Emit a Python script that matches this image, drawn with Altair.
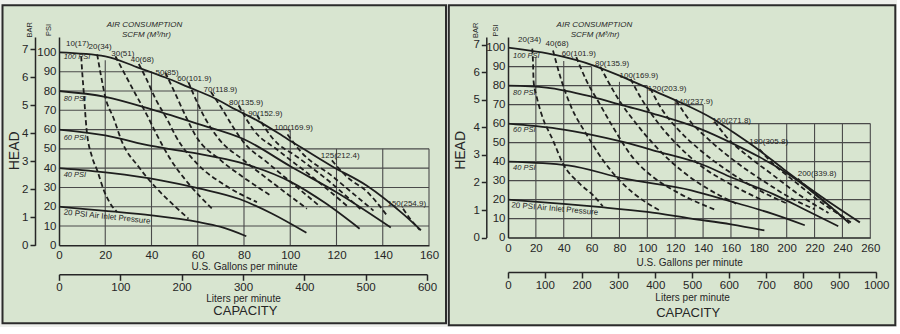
import altair as alt
import pandas as pd

FONT = "Liberation Sans, Arial, sans-serif"
INK = "#262626"
GRIDC = "#4a4a4a"
PANEL = "#d8e5d0"
PAGE = "#eef0ec"
PSI_PER_BAR = 14.5038

PSI_TICKS = [0, 10, 20, 30, 40, 50, 60, 70, 80, 90, 100]
BAR_TICKS = [0, 1, 2, 3, 4, 5, 6, 7]

# ---------------- left pump ----------------
L_GPM_TICKS = [0, 20, 40, 60, 80, 100, 120, 140, 160]
L_LPM_TICKS = [0, 100, 200, 300, 400, 500, 600]
L_GRID_V_GPM = [20, 40, 60, 80, 100, 120, 140, 160]
L_GRID_V_TOP = [96, 90, 80, 70, 60, 50, 50, 50]
L_GRID_H_PSI = [10, 20, 30, 40, 50, 60, 70, 80, 90]
L_GRID_H_END = [160, 160, 160, 160, 160, 100, 80, 60, 40]

L_P100 = [(0, 100), (20, 98), (34.5, 92), (46, 87), (56, 82), (66, 77), (77, 70), (86, 64.5),
          (98.6, 55.3), (118, 41), (133, 31), (149, 16), (156.5, 7.8)]
L_P80 = [(0, 80), (20, 77), (40, 70.5), (60, 63), (80, 55), (100, 41), (120, 27.5), (143.5, 9.2)]
L_P60 = [(0, 60), (20, 57), (40, 51.5), (60, 47.5), (78, 43), (100, 33), (115, 22), (130, 8.6)]
L_P40 = [(0, 40), (22, 37.5), (44, 33.7), (61, 29.4), (78, 24), (92, 16.5), (107, 6.5)]
L_P20 = [(0, 20), (20, 17.8), (40, 15.5), (60, 12.1), (70, 9.5), (81, 4.7)]

L_A10 = [(9.6, 98), (9.8, 94), (10.7, 79.4), (11.9, 60.4), (14.3, 45.8), (16.5, 38.9),
         (19.4, 28.5), (22.2, 21.6), (25.1, 17.3)]
L_A20 = [(16.5, 99), (18.3, 87), (20, 77), (23.7, 65.6), (27.3, 53.5), (34.5, 40.6),
         (41.7, 30.2), (48.9, 21.6), (56, 13.8)]
L_A30 = [(24.4, 98), (28, 89.8), (33, 78.6), (38.1, 67.4), (41.7, 58.7), (48, 45), (56, 32), (66.2, 19)]
L_A40 = [(34.5, 94), (37.4, 87.2), (41.7, 76), (47.4, 63.9), (50.3, 57), (60, 42), (72, 31), (85.6, 22.4)]
L_A50 = [(46, 89.5), (50.3, 78.6), (54.6, 67.4), (59, 57), (70, 44), (80, 35), (91.4, 25.9)]
L_A60 = [(56, 84.5), (59, 76), (63.3, 65.6), (69, 55.3), (80, 44), (95, 30), (107.2, 19)]
L_A70 = [(65.7, 79.5), (70.5, 70.8), (74.8, 62.2), (79.8, 53.5), (90, 43), (102, 31), (113, 20)]
L_A80 = [(77.7, 72.5), (84, 60), (95, 49), (110, 35), (124.5, 20.5)]
L_A90 = [(85.6, 67.5), (92, 56), (104, 45), (118, 32), (131, 18)]
L_A100 = [(98.8, 57.5), (105, 48), (118, 36), (128, 26), (136, 18)]
L_A125 = [(118, 44), (125, 35), (133, 28), (141.8, 15.5)]
L_A150 = [(148.8, 19), (152, 13.5), (156, 8)]

L_AIR_LABELS = ["10(17)", "20(34)", "30(51)", "40(68)", "50(85)", "60(101.9)", "70(118.9)",
                "80(135.9)", "90(152.9)", "100(169.9)", "125(212.4)", "150(254.9)"]
L_AIR_X = [8, 17.8, 27.6, 36, 46.7, 58.5, 69.8, 80.9, 89.2, 101.4, 121.6, 150.4]
L_AIR_Y = [104.5, 103, 99.3, 95.9, 89.3, 86, 80.7, 73.7, 68.2, 60.8, 46.3, 21.6]

L_PSI_LABELS = ["100 PSI", "80 PSI", "60 PSI", "40 PSI"]
L_PSI_LAB_X = [2, 2, 2, 2]
L_PSI_LAB_Y = [97.4, 75.6, 55.8, 36.3]
L_INLET_XY = (2, 17)

# ---------------- right pump ----------------
R_GPM_TICKS = [0, 20, 40, 60, 80, 100, 120, 140, 160, 180, 200, 220, 240, 260]
R_LPM_TICKS = [0, 100, 200, 300, 400, 500, 600, 700, 800, 900, 1000]
R_GRID_V_GPM = [20, 40, 60, 80, 100, 120, 140, 160, 180, 200, 220, 240, 260]
R_GRID_V_TOP = [95, 93, 90, 82, 80, 72, 70, 60, 60, 60, 60, 60, 60]
R_GRID_H_PSI = [10, 20, 30, 40, 50, 60, 70, 80, 90]
R_GRID_H_END = [260, 260, 260, 260, 260, 260, 140, 100, 60]

R_P100 = [(0, 100), (34.7, 96), (61, 90.7), (82.5, 84.5), (104, 77.5), (123, 71.4), (147, 62.6),
          (161.4, 55.6), (180.5, 45.9), (197.3, 36.3), (225, 21.5), (252.5, 8)]
R_P80 = [(0, 80), (27.5, 79), (61, 74), (82.5, 69.6), (104, 65.3), (137.5, 57.4), (161.4, 49.5),
         (180.5, 42.4), (200, 34), (222, 22), (245, 7.5)]
R_P60 = [(0, 60), (35, 57.4), (61, 54), (82.5, 50.4), (109, 45), (137.5, 39), (161, 31.5),
         (190, 23), (215, 14), (237, 6)]
R_P40 = [(0, 40), (43, 38), (83.7, 31), (131.5, 24.9), (160, 19), (190, 12.5), (213, 6.5)]
R_P20 = [(0, 20), (35, 18), (67, 16), (100, 13.5), (131.5, 10), (160, 7), (184, 3.8)]

R_A20 = [(17.4, 99.5), (17.9, 93), (18.4, 82), (20.3, 75), (23.9, 65.3), (32.3, 51.2), (39.5, 38.9),
         (51.4, 28.4), (61, 22.3), (68, 16.5)]
R_A40 = [(32.3, 98.5), (38.3, 82.8), (45.4, 68.7), (56.2, 54.5), (68.2, 40.7), (80.1, 30.1),
         (96.9, 19.6), (108.5, 14.4)]
R_A60 = [(49, 95), (56.2, 82.8), (65.7, 70.5), (75.3, 58.2), (89.7, 42), (104.1, 31.9),
         (123.3, 23.1), (149.5, 14.4)]
R_A80 = [(66.2, 90), (70.5, 84), (80, 72), (92, 60), (106, 48), (125, 35), (145, 25), (165, 17.5)]
R_A100 = [(88, 83.5), (95, 74), (106, 62), (120, 50), (138, 38), (160, 28), (183, 19.5)]
R_A120 = [(102.1, 78.5), (110, 68), (122, 57), (138, 46), (158, 35), (180, 25), (200, 18)]
R_A140 = [(120.8, 72), (130, 62), (145, 51), (165, 39), (185, 29), (205, 20), (220, 15)]
R_A160 = [(148.3, 61), (158, 52), (172, 43), (190, 33), (210, 22), (230, 13)]
R_A180 = [(180.5, 46.5), (190, 39), (205, 30), (222, 20), (240, 11)]
R_A200 = [(208, 31), (220, 23), (235, 14), (246, 8)]

R_AIR_LABELS = ["20(34)", "40(68)", "60(101.9)", "80(135.9)", "100(169.9)", "120(203.9)",
                "140(237.9)", "160(271.8)", "180(305.8)", "200(339.8)"]
R_AIR_X = [15.5, 35.2, 50.8, 74.7, 93.9, 114.2, 133.2, 160.5, 187.1, 221.8]
R_AIR_Y = [103.8, 102.1, 96.8, 91.6, 84.9, 78.4, 71.4, 61.4, 50.3, 33.3]

R_PSI_LABELS = ["100 PSI", "80 PSI", "60 PSI", "40 PSI"]
R_PSI_LAB_X = [3.6, 3.6, 3.6, 3.6]
R_PSI_LAB_Y = [95.4, 76.3, 56.5, 36.8]
R_INLET_XY = (2.4, 17)


def curves_df(curves):
    rows = []
    for name, pts in curves:
        for i, (g, p) in enumerate(pts):
            rows.append({"series": name, "i": i, "gpm": g, "psi": p})
    return pd.DataFrame(rows)


def panel(c):
    sx = alt.Scale(domain=[0, c["gmax"]], nice=False, zero=False)
    sy = alt.Scale(domain=[0, c["pmax"]], nice=False, zero=False)
    ax_x = alt.Axis(values=c["gticks"], title="U.S. Gallons per minute", grid=False, ticks=False,
                    labelPadding=c["glp"], titlePadding=c["gtp"], labelFontSize=11.5,
                    titleFontSize=10, titleFontWeight="normal", domainWidth=1.5,
                    labelFlush=False, zindex=2)
    ax_y = alt.Axis(values=PSI_TICKS, title=None, grid=False, ticks=False, labelPadding=3,
                    labelFontSize=11.5, domainWidth=1.5, labelFlush=False, zindex=2)

    def X(f):
        return alt.X(f, type="quantitative", scale=sx, axis=ax_x)

    def Y(f):
        return alt.Y(f, type="quantitative", scale=sy, axis=ax_y)

    fr = c["frame"]
    frame = alt.Chart(pd.DataFrame({"k": [0]})).mark_rect(
        fill=PANEL, stroke="#2b2b2b", strokeWidth=2
    ).encode(x=alt.value(fr[0]), x2=alt.value(fr[1]), y=alt.value(fr[2]), y2=alt.value(fr[3]))

    gv_df = pd.DataFrame({"gx": c["gv"], "y0": [0] * len(c["gv"]), "ytop": c["gvtop"]})
    gv = alt.Chart(gv_df).mark_rule(color=GRIDC, strokeWidth=1.1).encode(
        x=X("gx"), y=Y("y0"), y2="ytop")
    gh_df = pd.DataFrame({"gy": c["gh"], "x0": [0] * len(c["gh"]), "xend": c["ghend"]})
    gh = alt.Chart(gh_df).mark_rule(color=GRIDC, strokeWidth=1.1).encode(
        y=Y("gy"), x=X("x0"), x2="xend")

    solid = alt.Chart(curves_df(c["solid"])).mark_line(
        color="#1e1e1e", strokeWidth=1.8, interpolate="monotone").encode(
        x=X("gpm"), y=Y("psi"), detail="series:N", order="i:Q")
    dashed = alt.Chart(curves_df(c["dashed"])).mark_line(
        color="#1e1e1e", strokeWidth=1.8, strokeDash=[5, 3], interpolate="monotone").encode(
        x=X("gpm"), y=Y("psi"), detail="series:N", order="i:Q")

    air_df = pd.DataFrame({"label": c["air_lab"], "gpm": c["air_x"], "psi": c["air_y"]})
    air = alt.Chart(air_df).mark_text(font=FONT, fontSize=8, color=INK).encode(
        x=X("gpm"), y=Y("psi"), text="label:N")

    plab_df = pd.DataFrame({"label": c["plab"], "gpm": c["plab_x"], "psi": c["plab_y"]})
    plab = alt.Chart(plab_df).mark_text(font=FONT, fontSize=7.5, color=INK, align="left",
                                        fontStyle="italic").encode(
        x=X("gpm"), y=Y("psi"), text="label:N")

    inlet_df = pd.DataFrame({"label": ["20 PSI Air Inlet Pressure"],
                             "gpm": [c["inlet"][0]], "psi": [c["inlet"][1]]})
    inlet = alt.Chart(inlet_df).mark_text(font=FONT, fontSize=8, color=INK, align="left",
                                          angle=c["inlet_ang"]).encode(
        x=X("gpm"), y=Y("psi"), text="label:N")

    head_df = pd.DataFrame({"label": ["AIR CONSUMPTION", "SCFM (M³/hr)"],
                            "gpm": c["hdr_x"], "psi": c["hdr_y"]})
    head = alt.Chart(head_df).mark_text(font=FONT, fontSize=8, color=INK,
                                        fontStyle="italic").encode(
        x=X("gpm"), y=Y("psi"), text="label:N")

    rot_df = pd.DataFrame({"label": ["BAR", "PSI"], "gpm": c["rot_x"], "psi": c["rot_y"]})
    rot = alt.Chart(rot_df).mark_text(font=FONT, fontSize=7.5, color=INK, angle=270).encode(
        x=X("gpm"), y=Y("psi"), text="label:N")

    big_df = pd.DataFrame({"label": ["HEAD"], "gpm": [c["head_xy"][0]], "psi": [c["head_xy"][1]]})
    big = alt.Chart(big_df).mark_text(font=FONT, fontSize=14, color=INK, angle=270).encode(
        x=X("gpm"), y=Y("psi"), text="label:N")

    cap_df = pd.DataFrame({"label": ["CAPACITY"], "gpm": [c["cap_xy"][0]], "psi": [c["cap_xy"][1]]})
    cap = alt.Chart(cap_df).mark_text(font=FONT, fontSize=13, color=INK).encode(
        x=X("gpm"), y=Y("psi"), text="label:N")

    main = alt.layer(frame, gv, gh, solid, dashed, air, plab, inlet, head, rot, big, cap)

    lpm = alt.Chart(pd.DataFrame({"lpm": [0, c["lmax"]]})).mark_rule(opacity=0).encode(
        x=alt.X("lpm:Q",
                scale=alt.Scale(domain=[0, c["lmax"]], range=[0, c["lrange"]], nice=False, zero=False),
                axis=alt.Axis(orient="bottom", offset=c["loff"], values=c["lticks"], format="d",
                              title="Liters per minute", tickSize=6, labelPadding=1,
                              titlePadding=c["ltp"], labelFontSize=11.5, titleFontSize=10,
                              titleFontWeight="normal", domainWidth=1.5, tickWidth=1.5,
                              labelFlush=False, grid=False, zindex=2)))
    bar = alt.Chart(pd.DataFrame({"bar": [0, 7]})).mark_rule(opacity=0).encode(
        y=alt.Y("bar:Q",
                scale=alt.Scale(domain=[0, c["pmax"] / PSI_PER_BAR], nice=False, zero=False),
                axis=alt.Axis(orient="left", offset=c["boff"], values=BAR_TICKS, title=None,
                              tickSize=5, labelPadding=2, labelFontSize=11.5, domainWidth=1.5,
                              tickWidth=1.5, labelFlush=False, grid=False, zindex=2)))

    return alt.layer(main, lpm, bar).resolve_scale(x="independent", y="independent").properties(
        width=c["w"], height=c["h"])


left_cfg = dict(
    gmax=160, pmax=108, w=370, h=208.3, gticks=L_GPM_TICKS, glp=4, gtp=0.5,
    frame=(-56.5, 387, -31.7, 286.3),
    gv=L_GRID_V_GPM, gvtop=L_GRID_V_TOP, gh=L_GRID_H_PSI, ghend=L_GRID_H_END,
    solid=[("p100", L_P100), ("p80", L_P80), ("p60", L_P60), ("p40", L_P40), ("p20", L_P20)],
    dashed=[("a10", L_A10), ("a20", L_A20), ("a30", L_A30), ("a40", L_A40), ("a50", L_A50),
            ("a60", L_A60), ("a70", L_A70), ("a80", L_A80), ("a90", L_A90), ("a100", L_A100),
            ("a125", L_A125), ("a150", L_A150)],
    air_lab=L_AIR_LABELS, air_x=L_AIR_X, air_y=L_AIR_Y,
    plab=L_PSI_LABELS, plab_x=L_PSI_LAB_X, plab_y=L_PSI_LAB_Y,
    inlet=L_INLET_XY, inlet_ang=6,
    hdr_x=[37, 37.8], hdr_y=[114, 109],
    rot_x=[-12.7, -4.4], rot_y=[111.7, 111.7],
    head_xy=(-19, 49), cap_xy=(80.6, -34),
    lmax=600, lrange=368, loff=29, lticks=L_LPM_TICKS, ltp=0.5, boff=24,
)

right_cfg = dict(
    gmax=260, pmax=105.6, w=362.3, h=200.6, gticks=R_GPM_TICKS, glp=5, gtp=3,
    frame=(-59.2, 387.3, -31.7, 288.3),
    gv=R_GRID_V_GPM, gvtop=R_GRID_V_TOP, gh=R_GRID_H_PSI, ghend=R_GRID_H_END,
    solid=[("p100", R_P100), ("p80", R_P80), ("p60", R_P60), ("p40", R_P40), ("p20", R_P20)],
    dashed=[("a20", R_A20), ("a40", R_A40), ("a60", R_A60), ("a80", R_A80), ("a100", R_A100),
            ("a120", R_A120), ("a140", R_A140), ("a160", R_A160), ("a180", R_A180),
            ("a200", R_A200)],
    air_lab=R_AIR_LABELS, air_x=R_AIR_X, air_y=R_AIR_Y,
    plab=R_PSI_LABELS, plab_x=R_PSI_LAB_X, plab_y=R_PSI_LAB_Y,
    inlet=R_INLET_XY, inlet_ang=5,
    hdr_x=[62, 62.5], hdr_y=[111.7, 106.8],
    rot_x=[-23.2, -8.4], rot_y=[109.1, 109.1],
    head_xy=(-33.5, 45.9), cap_xy=(129.3, -39.5),
    lmax=1000, lrange=368.2, loff=34.4, lticks=R_LPM_TICKS, ltp=1.5, boff=21.7,
)

chart = alt.hconcat(panel(left_cfg), panel(right_cfg), spacing=0).properties(
    padding={"left": 1, "top": 4, "right": 0, "bottom": 0},
    background=PAGE,
).configure_view(strokeWidth=0).configure_axis(
    labelFont=FONT, titleFont=FONT, labelColor=INK, titleColor=INK,
    domainColor=INK, tickColor=INK, labelOverlap=False,
)

chart.save("out.html", embed_options={"renderer": "svg", "actions": False})
